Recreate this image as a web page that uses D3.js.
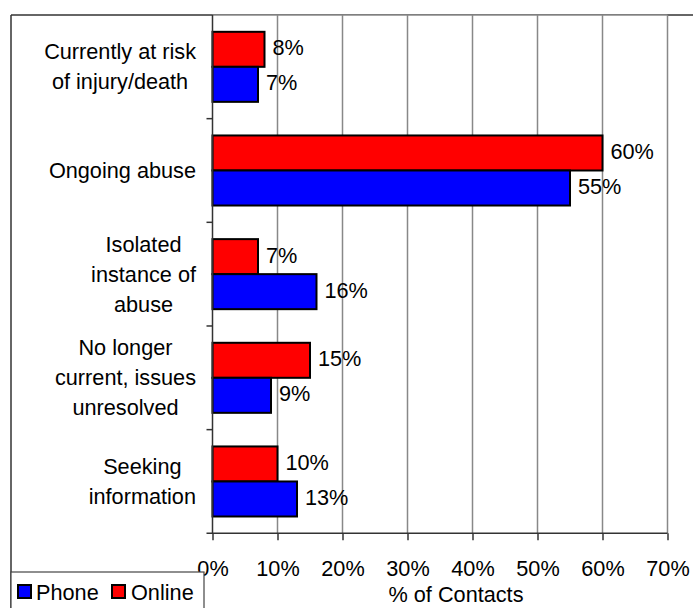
<!DOCTYPE html>
<html>
<head>
<meta charset="utf-8">
<script src="https://cdn.jsdelivr.net/npm/d3@7"></script>
<style>
  html, body { margin: 0; padding: 0; background: #fff; }
  svg { display: block; font-family: "Liberation Sans", Arial, sans-serif; }
</style>
</head>
<body>
<svg id="chart" width="693" height="608"></svg>
<script>
// Reason for contact, by channel (% of contacts)
const categories = [
  ["Currently at risk", "of injury/death"],
  ["Ongoing abuse"],
  ["Isolated", "instance of", "abuse"],
  ["No longer", "current, issues", "unresolved"],
  ["Seeking", "information"]
];
const seriesNames = ["Online", "Phone"];
const onlineValues = [8, 60, 7, 15, 10];
const phoneValues = [7, 55, 16, 9, 13];
const xTicks = [0, 10, 20, 30, 40, 50, 60, 70];
const legendOrder = ["Phone", "Online"];
const axisTitle = "% of Contacts";

const colors = { Online: "#ff0000", Phone: "#0000ff" };
const values = { Online: onlineValues, Phone: phoneValues };

const svg = d3.select("#chart");
const fontSize = 21.7;

const plot = { left: 212.5, right: 667.5, top: 15, bottom: 533.3 };

const x = d3.scaleLinear().domain([0, 70]).range([plot.left, plot.right]);
const keys = categories.map((c, i) => i);
const y = d3.scaleBand().domain(keys).range([plot.top, plot.bottom]).padding(0);
const ySub = d3.scaleBand().domain(seriesNames).range([0, y.bandwidth()])
  .paddingInner(0).paddingOuter(0.48);

// outer chart frame
svg.append("line").attr("x1", 11).attr("x2", 693).attr("y1", 15).attr("y2", 15)
  .attr("stroke", "#333").attr("stroke-width", 1.5);
svg.append("line").attr("x1", 11).attr("x2", 11).attr("y1", 15).attr("y2", 608)
  .attr("stroke", "#333").attr("stroke-width", 1.5);

// plot area
svg.append("rect").attr("x", plot.left).attr("y", plot.top)
  .attr("width", plot.right - plot.left).attr("height", plot.bottom - plot.top)
  .attr("fill", "#fff");
svg.append("line").attr("x1", plot.left).attr("x2", plot.right)
  .attr("y1", plot.top).attr("y2", plot.top)
  .attr("stroke", "#888").attr("stroke-width", 1.5);

// vertical gridlines
svg.append("g").selectAll("line").data(xTicks.slice(1)).join("line")
  .attr("x1", d => x(d)).attr("x2", d => x(d))
  .attr("y1", plot.top).attr("y2", plot.bottom)
  .attr("stroke", "#888").attr("stroke-width", 1.5);

// bars
const groups = svg.append("g").selectAll("g").data(keys).join("g")
  .attr("transform", i => `translate(0,${y(i)})`);
groups.selectAll("rect").data(i => seriesNames.map(s => ({ s, v: values[s][i] })))
  .join("rect")
  .attr("x", x(0))
  .attr("y", d => ySub(d.s))
  .attr("width", d => x(d.v) - x(0))
  .attr("height", ySub.bandwidth())
  .attr("fill", d => colors[d.s])
  .attr("stroke", "#000").attr("stroke-width", 2);

// value labels
groups.selectAll("text").data(i => seriesNames.map(s => ({ s, v: values[s][i] })))
  .join("text")
  .attr("x", d => x(d.v) + 8)
  .attr("y", d => ySub(d.s) + ySub.bandwidth() / 2 - 1.5)
  .attr("dy", "0.35em")
  .attr("font-size", fontSize)
  .attr("fill", "#000")
  .text(d => d.v + "%");

// x axis
const xAxis = d3.axisBottom(x).tickValues(xTicks).tickFormat(d => d + "%")
  .tickSize(7).tickPadding(20);
const gx = svg.append("g").attr("transform", `translate(0,${plot.bottom})`).call(xAxis);
gx.select(".domain").remove();
gx.selectAll(".tick line").attr("stroke", "#333").attr("stroke-width", 1.5);
gx.selectAll(".tick text").attr("font-size", fontSize).attr("fill", "#000")
  .attr("font-family", "Liberation Sans, Arial, sans-serif");
svg.append("line").attr("x1", plot.left - 6).attr("x2", plot.right)
  .attr("y1", plot.bottom).attr("y2", plot.bottom)
  .attr("stroke", "#333").attr("stroke-width", 1.5);

// y axis line with boundary ticks
svg.append("line").attr("x1", plot.left).attr("x2", plot.left)
  .attr("y1", plot.top).attr("y2", plot.bottom)
  .attr("stroke", "#333").attr("stroke-width", 1.5);
svg.append("g").selectAll("line").data(keys.slice(1)).join("line")
  .attr("x1", plot.left - 6).attr("x2", plot.left)
  .attr("y1", i => y(i)).attr("y2", i => y(i))
  .attr("stroke", "#333").attr("stroke-width", 1.5);

// category labels: lines centred, block right-aligned
const labelRight = 196;
const lineH = 30;
categories.forEach((lines, i) => {
  const g = svg.append("g");
  const cy = y(i) + y.bandwidth() / 2;
  const texts = lines.map((t, k) => g.append("text")
    .attr("font-size", fontSize).attr("fill", "#000")
    .attr("text-anchor", "middle")
    .attr("y", cy + (k - (lines.length - 1) / 2) * lineH)
    .attr("dy", "0.35em")
    .text(t));
  const maxW = d3.max(texts, t => t.node().getComputedTextLength());
  texts.forEach(t => t.attr("x", labelRight - maxW / 2));
});

// axis title
svg.append("text").attr("x", 456).attr("y", 601.5)
  .attr("text-anchor", "middle").attr("font-size", fontSize).attr("fill", "#000")
  .text(axisTitle);

// legend
const lg = svg.append("g");
lg.append("rect").attr("x", 11).attr("y", 572).attr("width", 193).attr("height", 50)
  .attr("fill", "#fff").attr("stroke", "#444").attr("stroke-width", 1.2);
const legendPos = { Phone: { sx: 18, tx: 36 }, Online: { sx: 112, tx: 131 } };
legendOrder.forEach(name => {
  lg.append("rect").attr("x", legendPos[name].sx).attr("y", 585)
    .attr("width", 13).attr("height", 13)
    .attr("fill", colors[name]).attr("stroke", "#000").attr("stroke-width", 2);
  lg.append("text").attr("x", legendPos[name].tx).attr("y", 599.5)
    .attr("font-size", fontSize).attr("fill", "#000").text(name);
});
</script>
</body>
</html>
